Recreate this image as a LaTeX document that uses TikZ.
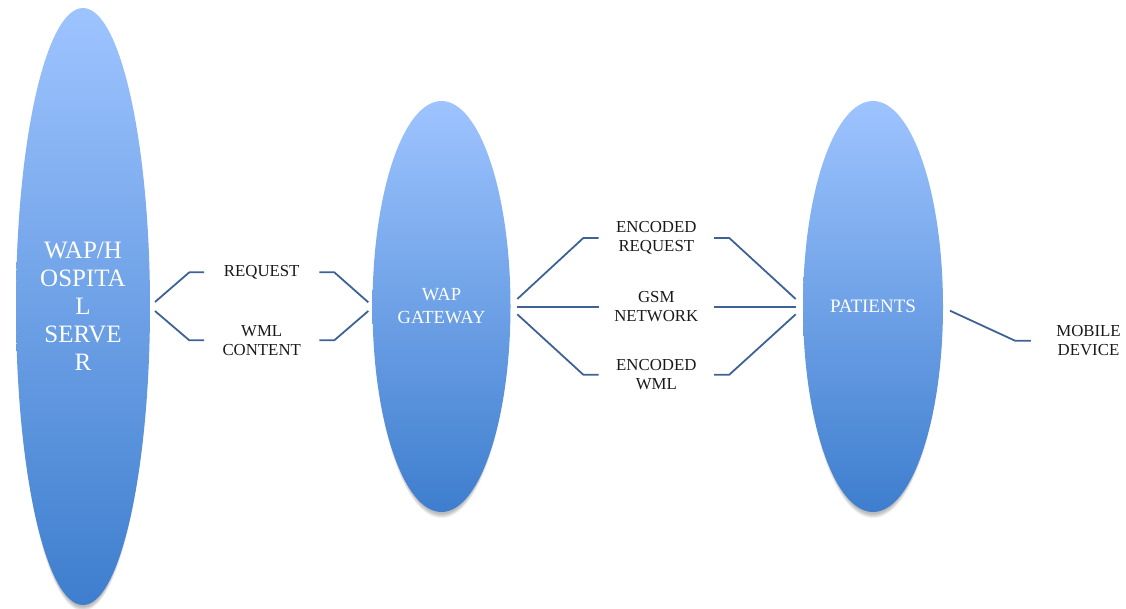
\documentclass[tikz,border=0pt]{standalone}
\usepackage{fontspec}
\setmainfont{Liberation Serif}
\usetikzlibrary{shapes.geometric}
\definecolor{podtop}{RGB}{158,196,255}
\definecolor{podbottom}{RGB}{62,126,206}
\definecolor{linkblue}{RGB}{62,98,150}
\tikzset{
  pod/.style={ellipse, inner sep=0pt, draw=none, top color=podtop, bottom color=podbottom,
    text=white, align=center},
  podshade/.style={ellipse, inner sep=0pt, draw=none, fill=black, fill opacity=0.06},
  tag/.style={minimum width=115pt, inner sep=0pt, align=center,
    font=\fontsize{16.8}{19}\selectfont, text=black!90},
  link/.style={draw=linkblue, line width=1.8pt, line join=round},
}
% soft shadow under an ellipse: #1 centre, #2 width, #3 height
\newcommand{\podshadow}[3]{%
  \foreach \k in {0,...,4}{%
    \node[podshade, minimum width=#2pt+1.0*\k pt, minimum height=#3pt+2*\k pt] at #1 {};
  }%
}
\begin{document}
\begin{tikzpicture}[x=1pt, y=-1pt]
  \useasboundingbox (0,0) rectangle (1126,608);

  % shadows
  \podshadow{(83,310.5)}{128}{593}
  \podshadow{(441.5,310.5)}{132}{407}
  \podshadow{(873,310.5)}{134}{407}

  % ellipses
  \node[pod, minimum width=134pt, minimum height=597pt,
        font=\fontsize{25}{28}\selectfont] (srv) at (83,306.5)
        {WAP/H\\OSPITA\\L\\SERVE\\R};
  \node[pod, minimum width=138pt, minimum height=411pt,
        font=\fontsize{18.5}{23}\selectfont] (gw) at (441.5,306.5)
        {WAP\\GATEWAY};
  \node[pod, minimum width=140pt, minimum height=411pt,
        font=\fontsize{19}{23}\selectfont] (pat) at (873,306.5)
        {PATIENTS};

  % labels
  \node[tag] (req)    at (261.7,272.3) {REQUEST};
  \node[tag] (wml)    at (261.7,340.3) {WML\\CONTENT};
  \node[tag] (encreq) at (656.3,238)   {ENCODED\\REQUEST};
  \node[tag] (gsm)    at (656.3,306.7) {GSM\\NETWORK};
  \node[tag] (encwml) at (656.3,374.7) {ENCODED\\WML};
  \node[tag] (mob)    at (1088.5,340.7) {MOBILE\\DEVICE};

  % connector ends beside the ellipses
  \coordinate (s1) at (155,302);     \coordinate (s2) at (155,311);
  \coordinate (g1) at (368.3,302.3); \coordinate (g2) at (368.3,311);
  \coordinate (g3) at (517.3,299);   \coordinate (g4) at (517.3,306.7);
  \coordinate (g5) at (517.3,314.3);
  \coordinate (p1) at (795.7,299);   \coordinate (p2) at (795.7,306.7);
  \coordinate (p3) at (795.7,314.3); \coordinate (p4) at (950,310.7);

  % server <-> gateway
  \draw[link] (s1) -- (189.3,272.3) -- (req.west);
  \draw[link] (s2) -- (189.3,340.3) -- (wml.west);
  \draw[link] (req.east) -- (334.3,272.3) -- (g1);
  \draw[link] (wml.east) -- (334.3,340.3) -- (g2);

  % gateway <-> patients
  \draw[link] (g3) -- (583.3,238) -- (encreq.west);
  \draw[link] (g4) -- (gsm.west);
  \draw[link] (g5) -- (583.3,374.7) -- (encwml.west);
  \draw[link] (encreq.east) -- (729.3,238) -- (p1);
  \draw[link] (gsm.east) -- (p2);
  \draw[link] (encwml.east) -- (729.3,374.7) -- (p3);

  % patients -> device
  \draw[link] (p4) -- (1015,340.7) -- (mob.west);
\end{tikzpicture}
\end{document}
